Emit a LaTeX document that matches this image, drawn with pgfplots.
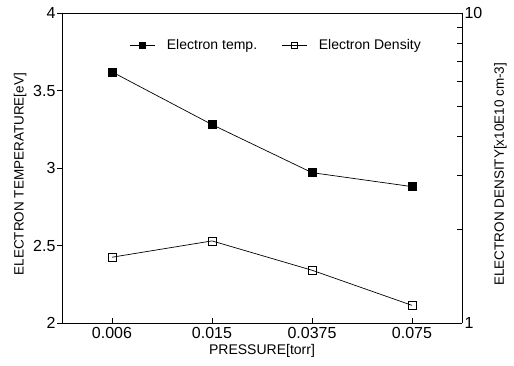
\documentclass[border=0pt]{standalone}
\usepackage{pgfplots}
\pgfplotsset{compat=1.18}
\usepackage{fontspec}
\setmainfont{Liberation Sans}

% Electron temperature (left axis) and electron density (right, log axis)
\pgfplotstableread{
x  te    ne
0  3.62  1.63
1  3.28  1.84
2  2.97  1.48
3  2.88  1.14
}\plasmadata

\begin{document}
\begin{tikzpicture}
\pgfplotsset{
  common/.style={
    scale only axis,
    width=400pt, height=310pt,
    xmin=-0.5, xmax=3.5,
    axis line style={line width=0.8pt},
    /pgf/number format/assume math mode=true,
    tick style={black, line width=0.6pt},
    every tick label/.append style={font=\fontsize{16}{18}\selectfont},
    label style={font=\fontsize{13.5}{15}\selectfont},
  },
}
\begin{axis}[
  common,
  ymin=2, ymax=4,
  ytick={2,2.5,3,3.5,4},
  xtick={0,1,2,3},
  xticklabels={0.006,0.015,0.0375,0.075},
  axis y line*=left,
  axis x line*=box,
  ytick align=outside,
  xtick align=inside,
  major tick length=5pt,
  xtick pos=bottom,
  xlabel={PRESSURE[torr]},
  ylabel={ELECTRON TEMPERATURE[eV]},
  xlabel style={yshift=1pt, font=\fontsize{14}{16}\selectfont},
  ylabel style={at={(ticklabel cs:0.48)}},
  xticklabel style={yshift=-1pt},
  yticklabel style={xshift=2pt},
]
\addplot[black, line width=0.7pt, mark=square*, mark size=4pt,
  mark options={solid, fill=black}] table[x=x, y=te] {\plasmadata};
\end{axis}

\begin{axis}[
  common,
  ymode=log,
  ymin=1, ymax=10,
  axis y line*=right,
  axis x line=none,
  ytick={1,10},
  yticklabels={1,10},
  minor ytick={2,3,4,5,6,7,8,9},
  ytick align=inside,
  major tick length=5pt,
  minor tick length=5pt,
  ylabel={ELECTRON DENSITY[x10E10 cm-3]},
  ylabel style={at={(ticklabel cs:0.48)}, yshift=-5pt},
  yticklabel style={xshift=-1pt},
  legend columns=2,
  legend style={draw=none, fill=none, at={(0.535,0.895)}, anchor=center,
    font=\fontsize{14}{16}\selectfont,
    /tikz/every odd column/.append style={column sep=10pt},
    /tikz/every even column/.append style={column sep=22pt}},
  legend image code/.code={
    \draw[mark repeat=2, mark phase=2, #1] plot coordinates {(0pt,0pt) (12.5pt,0pt) (25pt,0pt)};
  },
]
\addlegendimage{black, line width=0.7pt, mark=square*, mark size=3pt, mark options={solid, fill=black}}
\addlegendentry{Electron temp.}
\addplot[black, line width=0.7pt, mark=square, mark size=4pt,
  mark options={solid, fill=white}, forget plot] table[x=x, y=ne] {\plasmadata};
\addlegendimage{black, line width=0.7pt, mark=square, mark size=3pt, mark options={solid, fill=white}}
\addlegendentry{Electron Density}
\end{axis}
\path[use as bounding box] (current axis.south west) ++(-62pt,-43pt) rectangle ++(514pt,366pt);
\end{tikzpicture}
\end{document}
